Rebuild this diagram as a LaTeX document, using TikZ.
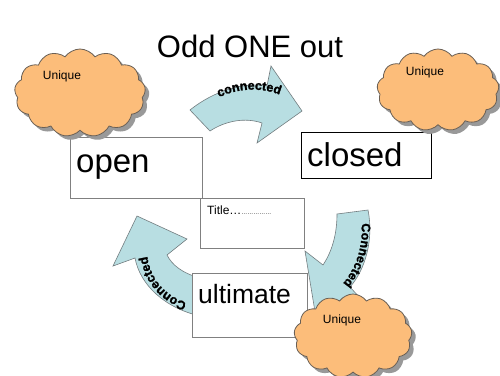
\documentclass[tikz,border=0pt]{standalone}
\usepackage{fontspec}
\setmainfont{Liberation Sans}
\newfontfamily\heavyfont[FakeBold=1.6]{Liberation Sans}
\usetikzlibrary{shapes.symbols,shadows,decorations.text}
\definecolor{cloudfill}{RGB}{252,189,122}
\definecolor{cloudline}{RGB}{105,95,85}
\definecolor{arrowfill}{RGB}{184,222,226}
\definecolor{arrowline}{RGB}{115,125,128}
\definecolor{boxline}{RGB}{128,128,128}
\tikzset{
  cloudshape/.style={cloud, cloud puffs=13, cloud puff arc=110, cloud ignores aspect,
    draw=cloudline, fill=cloudfill, line width=0.8pt, inner sep=0pt,
    drop shadow={shadow xshift=4pt, shadow yshift=-4pt, fill=black!40, opacity=1}},
  bigarrow/.style={draw=arrowline, fill=arrowfill, line width=0.6pt, line join=miter},
  wordbox/.style={draw=boxline, fill=white, line width=0.8pt, inner sep=0pt, anchor=north west},
  bigword/.style={anchor=base west, inner sep=0pt, font=\fontsize{33}{33}\selectfont},
  smallword/.style={inner sep=0pt, font=\fontsize{12}{12}\selectfont},
  arctext/.style={decorate, decoration={text along path, text align=center,
    text={|\heavyfont\fontsize{12.5}{12.5}\selectfont\bfseries|#1}}}
}
\begin{document}
\begin{tikzpicture}[x=1pt,y=-1pt]
\useasboundingbox (0,0) rectangle (500,375);
\clip (0,0) rectangle (500,375);
\fill[white] (0,0) rectangle (500,375);

% title
\node[anchor=base, inner sep=0pt, font=\fontsize{31}{31}\selectfont] (title) at (250,57) {Odd ONE out};

% curved arrows
\path[bigarrow] (190,110) .. controls (215,90) and (245,82) .. (267,86)
  -- (271,66) -- (302,111) -- (257,143) -- (262,123)
  .. controls (245,117) and (225,121) .. (210,131) -- cycle;
\path[bigarrow] (337,214) -- (368,210) .. controls (374,240) and (365,270) .. (350,287)
  -- (360,298) -- (318,330) -- (305,251) -- (323,265)
  .. controls (333,250) and (337,232) .. (337,214) -- cycle;
\path[bigarrow] (200,316) .. controls (165,308) and (140,285) .. (135,258)
  -- (113,266) -- (137,216) -- (187,239) -- (167,255)
  .. controls (172,265) and (182,273) .. (200,278) -- cycle;

\path[arctext={connected}] (212,101) .. controls (234,88) and (262,85) .. (287,98);
\path[arctext={Connected}] (361,219) .. controls (364,245) and (357,268) .. (340,287);
\path[arctext={Connected}] (189,303) .. controls (168,298) and (150,281) .. (147,254);

% boxes
\node[wordbox, minimum width=132pt, minimum height=61pt] (openbox) at (70,137) {};
\node[wordbox, draw=black, minimum width=130pt, minimum height=46pt] (closedbox) at (301,132) {};
\node[wordbox, minimum width=104pt, minimum height=50pt] (titlebox) at (200,198) {};
\node[wordbox, minimum width=115pt, minimum height=64pt] (ultbox) at (192,273) {};

\node[bigword] (opentext) at (76,172) {open};
\node[bigword] (closedtext) at (307,166) {closed};
\node[bigword, font=\fontsize{26.5}{26.5}\selectfont] (ulttext) at (198,303) {ultimate};
\node[smallword, anchor=base west] (titletext) at (207,214) {Title…{\fontsize{6}{6}\selectfont ……………}};

% clouds
\node[cloudshape, minimum width=131pt, minimum height=88pt] (cloudA) at (80,93) {};
\node[cloudshape, minimum width=122pt, minimum height=82pt] (cloudB) at (438,90) {};
\node[cloudshape, minimum width=118pt, minimum height=84pt] (cloudC) at (353,336) {};

\node[smallword] (uniqueA) at (62,76) {Unique};
\node[smallword] (uniqueB) at (425,72) {Unique};
\node[smallword] (uniqueC) at (342,320) {Unique};
\end{tikzpicture}
\end{document}
